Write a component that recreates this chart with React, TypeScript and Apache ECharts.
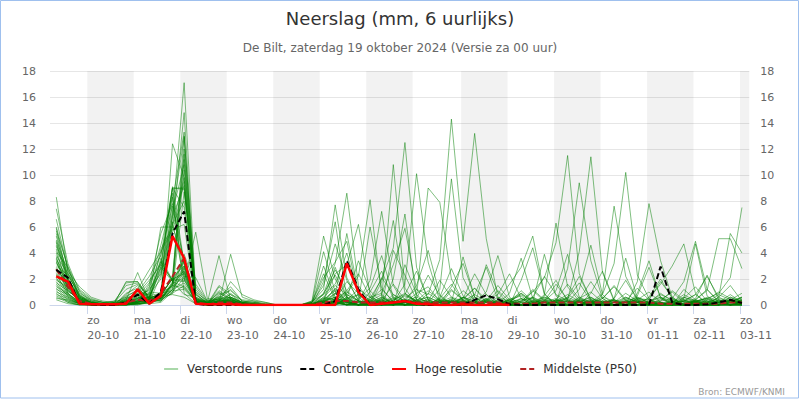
import React, { useEffect, useRef } from 'react';
import * as echarts from 'echarts';

// hours since Sat 19 Oct 2024 00:00 (local); 6-hourly sums, first at 08:00
const times = Array.from({ length: 60 }, (_, i) => 6 * (i + 1) + 2);

const tickHours = [24, 48, 72, 96, 120, 144, 168, 192, 217, 241, 265, 289, 313, 337, 361];
const tickLabels = ['zo\n20-10', 'ma\n21-10', 'di\n22-10', 'wo\n23-10', 'do\n24-10', 'vr\n25-10', 'za\n26-10', 'zo\n27-10', 'ma\n28-10', 'di\n29-10', 'wo\n30-10', 'do\n31-10', 'vr\n01-11', 'za\n02-11', 'zo\n03-11'];
const bandStarts = [24, 72, 120, 168, 217, 265, 313, 361];
const bandEnds = [48, 96, 144, 192, 241, 289, 337, 365.8];

const hres = [2.2,1.8,0.1,0.05, 0.05,0.05,0.1,1.2, 0.1,0.7,5.3,3.6, 0.1,0.05,0.05,0.05, 0,0,0,0, 0,0,0,0, 0,3.2,1.0,0, 0.1,0.2,0.3,0.1, 0.05,0,0,0.05, 0,0,0.05,0];
const controle = [2.7,2.1,0.1,0.05, 0,0,0.2,0.8, 0.1,1.0,5.5,7.2, 0.1,0,0,0, 0,0,0,0, 0,0,0,0, 0.3,3.4,1.2,0, 0.1,0.2,0.3,0.1, 0,0,0,0, 0.4,0.75,0.45,0.05, 0,0,0,0, 0,0,0,0, 0,0,0,0, 2.95,0.2,0,0, 0.05,0.2,0.4,0.15];
const p50 = [2.75,1.4,0.3,0.1, 0,0,0.2,0.4, 0.3,0.9,2.2,3.6, 0.2,0.05,0.2,0.2, 0.05,0,0,0, 0,0,0,0.2, 0.3,0.3,0.2,0.2, 0.2,0.2,0.3,0.2, 0.2,0.2,0.2,0.2, 0.2,0.2,0.2,0.1, 0.1,0.1,0.2,0.2, 0.2,0.2,0.2,0.2, 0.2,0.2,0.2,0.2, 0.1,0.1,0.1,0.1, 0.1,0.1,0.2,0.2];

const m01 = [8.3,2.5,0.6,0.2, 0.1,0,0.3,0.5, 1.2,2.4,6.8,17.1, 0.8,0.1,0.3,0.2, 0.1,0,0,0, 0,0,0.1,0.4, 1.2,0.3,0,0.2, 2.1,0.8,0.3,0, 0.1,0,1.4,3.2, 0.6,0,0,0.2, 0.9,0.3,0,0, 0.1,0.4,1.8,0.5, 0,0,0.2,0, 0.3,1.1,0.4,0, 0,0.2,0.1,0];
const m02 = [7.4,3.2,1.0,0.3, 0.2,0.1,0.2,0.8, 0.4,0.5,12.4,9.8, 0.3,0,0.1,0.3, 0,0,0,0, 0,0,0,0, 0.3,1.1,2.4,0.6, 0.9,3.1,5.9,1.2, 0.2,0,0,0.4, 1.3,0.2,0,0, 0,0.6,2.2,0.8, 0.3,0,0,0.1, 0.5,1.9,0.4,0, 0,0.2,0.8,0.3, 0,0,0.4,0.9];
const m03 = [6.0,2.8,0.8,0.1, 0,0.1,1.8,1.8, 0.6,6.0,6.0,14.8, 0.2,0,0,0.1, 0,0,0,0, 0,0,0.3,5.3, 2.0,0.4,0,0.1, 0.6,0.2,0,0.3, 1.1,0.4,0,0, 0.2,0.8,0.2,0, 0,0,0.3,1.6, 0.4,0,0.2,0, 0,0.1,0.7,2.9, 0.6,0,0,0.1, 0.3,0.2,0,0];
const m04 = [5.7,3.0,0.5,0.1, 0,0.2,0.1,0.3, 0.9,3.2,9.0,8.9, 0.5,0.2,3.8,0.4, 0.1,0,0,0, 0,0,0,0.6, 1.5,0.8,0.3,6.0, 1.3,0.2,0,0, 0,0.3,1.2,0.4, 0,0,0.1,0.9, 3.6,0.5,0,0, 0,0.2,0.6,0.1, 0,0,0.3,0.2, 0.8,0.4,0,0, 0.1,0.6,1.5,0.3];
const m05 = [5.5,2.2,0.9,0.4, 0.2,0.3,0.4,2.5, 0.3,0.9,8.0,13.3, 0.1,0.4,0.2,3.9, 0.6,0.3,0,0, 0,0,0.2,1.2, 7.7,2.1,0.3,0, 0,0.4,0.9,0.2, 0,0,0.2,0.6, 0.3,0,0,0, 0.2,1.2,0.4,0, 0,0.3,0.1,0, 0,0,0.4,1.0, 0.2,0,0,0.3, 0.5,0.1,0,0];
const m06 = [5.3,1.8,0.4,0.2, 0,0.1,0,0.1, 0.2,1.0,7.0,12.9, 1.2,0.1,0.5,1.2, 0.3,0.2,0.1,0, 0,0,0,0, 0.4,1.8,0.9,0.2, 0,0,0.3,1.5, 4.2,0.8,0,0, 0.1,0.3,0,0, 0,0.1,0.5,0.2, 0,0,0.9,2.6, 0.4,0,0,0.2, 0,0.3,0.1,0, 0,0.4,0.2,0.1];
const m07 = [5.0,2.6,1.4,0.6, 0.3,0.2,0.6,1.2, 2.7,4.1,5.8,6.2, 0.2,0,0,0, 0,0,0,0, 0,0,0,1.8, 6.4,0.5,0,0.3, 0.8,0.1,0,0.5, 2.3,0.7,0,0, 0,0.2,1.1,0.3, 0,0,0,0.4, 1.6,0.5,0,0, 0.2,0.9,0.3,0, 0,0,0.5,1.4, 0.3,0,0,0.2];
const m08 = [4.8,1.6,0.3,0.1, 0,0,0.2,0.4, 0.6,2.8,9.0,7.5, 0.1,0,1.4,0.6, 0.2,0.1,0,0, 0,0,0,0, 0.2,0.5,3.4,1.1, 0.2,0,0,0, 0.3,1.9,0.6,0, 0,0,0.4,0.2, 0.1,0,0,0.3, 0.6,0.2,0,0, 0,0.3,1.3,0.4, 0,0,0,0.2, 0.6,0.3,0,0];
const m09 = [4.5,2.0,0.7,0.3, 0.1,0.3,1.5,1.7, 0.5,0.6,1.6,11.2, 0.3,0.2,0.2,1.8, 0.8,0.4,0.2,0, 0,0,0.1,0.9, 3.2,8.6,1.5,0.2, 0,0.4,0.8,0.3, 0,0,0.2,1.1, 0.4,0,0,0, 0,0.3,0.2,0, 0,0,0.1,0.5, 1.4,0.3,0,0, 0,0.2,0.1,0, 0,0,0.3,0.5];
const m10 = [4.3,1.2,0.2,0, 0,0,0,0.2, 1.6,5.5,7.8,2.2, 2.1,0.3,0.3,0.2, 0,0,0,0, 0,0,0.2,4.1, 1.0,0.3,0,0, 0.2,0.5,0.1,0, 0,0.6,2.8,0.7, 0,0,0,0.3, 0.8,0.2,0,0, 0.1,0.4,0.2,0, 0,0,0,0.6, 2.0,0.5,0,0, 0,0.1,0.4,0.2];
const m11 = [4.1,2.9,1.2,0.5, 0.2,0.1,0.3,0.6, 0.3,0.8,1.5,10.4, 0.4,0.2,1.1,0.5, 0.2,0.1,0,0, 0,0,0,0.3, 2.4,3.1,6.2,0.8, 0,0,0.2,0.1, 0.9,0.3,0,0, 0.2,1.0,3.8,0.6, 0,0,0.2,0, 0,0.3,0,0, 0.4,0.2,0,0, 0.1,0,0.6,0.3, 0,0,0,0.1];
const m12 = [4.0,1.5,0.2,0.1, 0,0,0.1,0.2, 0.4,3.6,1.9,1.8, 5.6,0.5,0.4,0.3, 0.1,0,0,0, 0,0,0,0.2, 0.8,5.5,1.0,0, 0.3,1.6,0.4,0, 0,0,0.3,0, 0,0.5,0.2,0, 1.9,4.4,0.8,0, 0,0.2,0.1,0, 0,0,0.5,0.2, 0,0,0,0.4, 1.2,0.3,0,0];
const m13 = [3.8,2.4,0.6,0.2, 0.1,0,0.8,1.5, 0.2,0.6,6.2,9.8, 0.2,0,0.1,0.1, 0,0,0,0, 0,0,0,0.5, 0.4,0.9,2.2,8.1, 0.7,0,0,0.2, 0,0.1,0,0.5, 1.3,0.4,0,0, 0,0,0.7,1.9, 0.3,0,0,0, 0.2,0.6,0.2,0, 0,0.1,0.3,0, 0,0,0.2,0.6];
const m14 = [3.7,1.1,0.4,0, 0,0,0,0, 0.3,0.3,1.2,8.7, 1.6,0.3,0.6,1.4, 0.3,0.2,0.1,0, 0,0,0,0, 0.2,0,0.5,1.3, 3.8,0.6,0,0, 0,0.2,0.4,0.1, 0,0,0,0.2, 0.5,0,0.3,1.1, 3.9,0.6,0,0, 0,0,0.2,0, 0.4,1.0,0.2,0, 0,0,0,0.3];
const m15 = [3.5,2.1,0.3,0.1, 0,0,0.2,0.5, 1.0,0.9,2.0,2.4, 0.1,0,0.2,0.2, 0,0,0,0, 0,0,0.1,3.0, 0.6,0,0,0.2, 0.4,0,0.8,2.6, 0.4,0,0,0, 0,0.3,0.1,0, 0,0,0,0.2, 0.5,1.7,0.3,0, 0,0.2,0,0, 0,0,0.1,0.5, 2.3,0.4,0,0];
const m16 = [3.4,0.9,0.1,0, 0,0.1,0.1,0.3, 0.5,0.9,1.1,1.2, 0.3,0.1,1.5,0.8, 0.4,0.3,0.2,0, 0,0,0,0.8, 2.7,1.1,0.3,1.9, 7.2,1.5,0,0, 0.2,0,0,0.3, 0,0,0.2,0.4, 0,1.1,0.3,0, 0,0,0,0.2, 0.3,0,0.9,3.4, 0.5,0,0,0, 0,0.2,0.8,0.2];
const m17 = [3.2,1.9,0.5,0.2, 0,0.2,1.7,1.8, 0.4,4.3,6.0,3.6, 0.2,0.1,0.1,0.4, 0.2,0.1,0,0, 0,0,0,0, 0.3,0.2,0,0.6, 0.2,0,0.4,0.1, 0,0.5,0.2,0, 0.8,2.9,0.4,0, 0,0,0,0.2, 0,0,0.4,0.3, 0,0,0.2,0.1, 0,0,0,0.2, 0.4,1.0,0.5,0];
const m18 = [3.0,2.3,0.8,0.3, 0,0.2,0.3,0.4, 0.2,0.6,2.2,12.0, 0.5,0.2,0.3,0.1, 0,0,0,0, 0,0,0,0.4, 1.1,0.2,0,0, 0.5,10.8,1.3,0, 0,0.2,0,0.1, 0.2,0,0,0, 0.5,0.2,0,0.3, 0.8,0.3,0,0, 0,0,0,0.2, 0.3,0.5,0,0, 0,0,0.6,0.2];
const m19 = [2.9,1.4,0.2,0.1, 0,0,0,0.1, 0.8,2.0,8.6,0.9, 0.1,0,0,0.2, 0,0,0,0, 0,0,0,0, 0,0.3,0.8,0.4, 0,0,0.2,0.9, 1.4,0.3,0.2,3.7, 0.6,0,0,0, 0,0,0,0.4, 0.2,1.2,4.6,0.8, 0,0,0,0.3, 0.6,0.1,0,0, 0,0.3,0,0.1];
const m20 = [2.8,1.0,0.6,0.2, 0.1,0,0.5,0.9, 1.9,3.1,1.9,3.5, 0.8,0.2,0.9,0.5, 0.1,0,0,0, 0,0,0.2,1.5, 4.7,1.9,0.4,0, 0,0,0.3,0.6, 0.2,0,0,0, 0,0.4,0.8,2.4, 0.5,0,0,0, 0,0,0.2,0.1, 0,0.5,0.3,0, 0,0,1.2,0.4, 0,0,0.1,0.3];
const m21 = [2.7,1.7,0.3,0, 0,0.1,0.2,0.6, 0.3,0.7,1.0,2.1, 0.2,0,0.2,0.1, 0,0,0,0, 0,0,0,0.2, 0.6,1.0,0.3,0, 1.8,6.5,0.9,0.3, 0,0,0.3,0.2, 0,0,0,0.1, 0.3,0.6,0.2,0, 0,0,0,0.5, 1.5,0.4,0,0, 0,0,0.3,0, 0.2,0.8,0.4,0];
const m22 = [2.5,1.3,0.4,0.1, 0,0,0,0.2, 0.5,0.6,6.8,9.2, 1.0,0.3,0.4,0.6, 0.2,0,0,0, 0,0,0.1,0.3, 0.9,0.2,0,0.5, 2.0,4.4,12.5,2.9, 0.4,0,0,0, 0,0.2,0,0, 0,0,0.4,0.2, 0,0.3,0,0.1, 0,0,0.6,0.2, 0,0,0,0, 0.3,0.1,0,0.2];
const m23 = [2.4,0.8,0.1,0, 0,0,0.1,0.1, 0.2,0.4,0.9,1.5, 0.3,0,0.1,0.3, 0,0,0,0, 0,0,0,0, 0.2,0.4,0.1,0, 0,0.2,0.7,0.3, 0,0,1.1,0.4, 0.2,0,0,0, 0,0.2,3.9,0.7, 0,0,0,0.3, 0.2,0,0,0.4, 1.8,0.6,0,0, 0,0,0,0.4];
const m24 = [2.2,1.6,0.5,0.2, 0,0.1,0.3,1.0, 2.2,3.8,9.1,3.2, 0.2,0,0.8,1.1, 0.3,0.2,0,0, 0,0,0,0.9, 2.3,0.6,0,0, 0.4,0.2,1.6,10.1, 3.3,0.3,0,0, 0,0,0.3,0.1, 0,0,0,0.4, 0.2,0.5,1.0,0.2, 0,0,0,0.1, 0,0.4,0.2,0, 0,0,0.3,0];
const m25 = [2.1,0.7,0.2,0.1, 0,0,0,0.3, 0.3,0.5,1.8,0.8, 0.6,0.2,0.2,0.2, 0.1,0,0,0, 0,0,0,0.3, 0.1,0.4,1.2,0.6, 0,2.0,7.0,0.4, 0,0,0,0.3, 0.8,0.3,0,0, 0,0.4,0.1,0, 0,0,0.2,0.6, 0.3,0,0,0, 0.2,0,0.5,4.7, 0.7,0,0,0];
const m26 = [2.0,1.2,0.3,0, 0,0,0.2,0.5, 0.9,0.7,2.1,3.0, 0.1,0,0.3,0.5, 0,0,0,0, 0,0,0,0, 0.5,0.3,0,0.2, 0.6,0.1,0,0.7, 9.0,7.9,2.0,0.3, 0,0,0.2,0, 0,0.1,0,0, 0.3,0.2,0,0, 0,0.2,0.4,0, 0,0,0,0.1, 0.2,0.5,0.3,0];
const m27 = [1.8,0.6,0.1,0, 0,0,0,0.1, 0.4,1.0,1.4,2.2, 0.4,0.1,0.6,0.2, 0.1,0,0,0, 0,0,0.2,2.4, 0.4,0,0,0, 0.2,0.3,0,0.4, 0.6,0.2,0,0, 0,0.3,1.5,0.4, 0,0,0.3,0, 0,0,0,0, 0.5,3.6,0.5,0, 0,0,0.3,0.8, 0.2,0,0.4,0.1];
const m28 = [1.7,1.1,0.4,0.1, 0,0,0.9,1.3, 0.5,0.5,1.6,2.6, 0.1,0,0.2,0.1, 0,0,0,0, 0,0,0,0, 0.3,0.2,0,0, 0,0,0.5,1.2, 0.8,3.5,14.3,4.9, 13.2,5.1,0.6,0, 0,0,0,0.2, 0,0.3,0,0, 0,0,0,0, 0.2,0,0,0.3, 0,0.2,0,0];
const m29 = [1.5,0.5,0.1,0, 0,0,0.1,0.2, 0.6,2.6,7.2,10.8, 0.3,0,0.1,0.9, 0.2,0.1,0,0, 0,0,0.1,0.2, 0,0.4,0.2,0, 0,0.6,0.3,0, 0.2,1.2,9.7,2.1, 0.3,0,0,0.4, 0.9,0.2,0,0, 0,0.4,0.3,0, 0,0,0.2,0, 0,0,0,0.4, 0.2,0,0,0.3];
const m30 = [1.4,0.9,0.2,0.1, 0,0,0,0, 0.2,0.4,1.5,3.0, 0.9,0.1,1.0,0.3, 0,0,0,0, 0,0,0,0.1, 0.3,0,0,0.4, 1.2,0.3,0,0, 0,0.3,0.2,0, 0,0,0.4,1.6, 2.9,5.3,0.9,0, 0,0,0.3,0.1, 0,0,0,0.2, 0.6,0.3,0,0, 0,0,0.2,0.6];
const m31 = [1.3,0.4,0.1,0, 0,0,0.4,0.8, 1.1,2.9,1.8,3.4, 0.2,0,0.3,0.1, 0,0,0,0, 0,0,0,0.2, 0.2,0,0.3,0, 0,0.2,0,0, 0.5,0,0,0.2, 0.3,0,0.1,0, 0,0,0.8,6.3, 1.4,0.3,0,0, 0,0.3,0.2,0, 0,0,0.4,0.1, 0,0,0,0.2];
const m32 = [1.2,0.8,0.3,0.1, 0,0,0.2,0.3, 0.2,0.8,2.0,1.9, 0.5,0.1,0.2,0.4, 0.1,0,0,0, 0,0,0,0, 0.4,0.1,0,0.2, 0,0.3,0,0.4, 0.3,0,0,0.1, 0.6,0.2,0,0, 0.3,1.0,2.1,4.8, 11.5,2.4,0.4,0, 0,0,0.2,0.1, 0,0,0,0.3, 0.5,0.2,0,0];
const m33 = [1.1,0.3,0,0, 0,0,0,0.1, 0.3,0.6,1.3,2.9, 0.1,0,0,0.2, 0,0,0,0, 0,0,0,0.2, 0.9,0.1,0,0, 0.3,0,0.2,0, 0,0.2,0.6,0.3, 0,0,0,0.2, 0.4,0.5,0,0.2, 2.8,9.4,3.4,0.5, 0,0,0.3,0, 0,0.2,0,0, 0,0.4,0,0.2];
const m34 = [1.0,0.6,0.2,0, 0,0,0.6,0.7, 0.4,3.4,1.8,1.4, 0.3,0.2,0.5,0.6, 0.2,0.1,0,0, 0,0,0.1,0.3, 0,0,0.3,0.2, 0,0.8,0.3,0, 0,0,0,0.6, 0.2,0,0,0, 0,0.3,0.6,0.2, 0.4,4.1,11.4,2.5, 0.3,0,0,0, 0,0.2,0.6,0.2, 0,0,0,0.1];
const m35 = [0.9,0.2,0,0, 0,0,0.1,0.2, 0.7,0.6,5.6,9.5, 0.2,0,0.1,0.1, 0,0,0,0, 0,0,0,0, 0.5,0.3,0,0, 0,0,0.4,0.3, 0,0.2,0,0, 0,0.4,0.2,0, 0,0,0,0, 0.3,0,0.2,0.9, 7.6,2.2,0.4,0, 0,0,0.3,0.2, 0,0.6,0.2,0];
const m36 = [0.8,0.5,0.1,0, 0,0,0,0.4, 0.1,0.5,0.9,3.9, 1.4,0.2,0.2,0.2, 0.1,0,0,0, 0,0,0,0.1, 0,0.6,0.2,0, 0,0,0,0.2, 0,0.4,0.3,0, 0,0,0.2,0.3, 0,0.6,0,0, 0.4,0,0,0.8, 3.2,10.2,2.3,0.5, 0,0,0,0.3, 0.2,0,0,0];
const m37 = [0.7,0.3,0.1,0, 0,0,0.3,0.2, 0.6,0.3,1.2,2.5, 0.1,0,0.4,0.8, 0.1,0,0,0, 0,0,0,0, 0.2,0,0,0.4, 0.2,0,0,0, 0,0,0.3,0.1, 0,0,0,0.5, 0.2,0,0,0.1, 0,0.3,0.6,0, 0.2,0,1.8,7.8, 3.4,0.6,0,0, 0,0,0.3,0.1];
const m38 = [0.6,0.2,0,0, 0,0,0.1,0.1, 0.2,2.3,6.4,2.0, 0.2,0,0.1,0.1, 0,0,0,0, 0,0,0,0.3, 0.6,0.2,0,0, 0.3,0,0,0, 0.2,0,0.2,0, 0,0.4,0,0, 0,0,0.3,0, 0,0.2,0,0.3, 0,0,0.2,0.5, 1.6,3.0,4.7,0.9, 0,0,0.2,0.4];
const m39 = [0.5,0.4,0.1,0, 0,0,0,0.3, 1.4,4.6,8.3,3.1, 0.3,0,0.3,0.3, 0,0,0,0, 0,0,0,0.1, 0,0.5,0.8,0.2, 0,0,0.3,0, 0,0,0.5,0.2, 0.3,0,0,0, 0.2,0,0,0, 0,0,0.3,0.2, 0,0.6,0.2,0, 0,0.5,1.8,4.9, 1.2,0.2,0,0];
const m40 = [0.4,0.1,0,0, 0,0,0.2,0.1, 0.1,0.2,1.0,2.8, 0.1,0,0,0.1, 0,0,0,0, 0,0,0,0, 0.2,0,0,0, 0,0.3,0,0.2, 0,0,0,0.3, 0,0.2,0,0, 0,0,0.2,0, 0.3,0,0,0, 0,0.3,0,0, 0.2,0,0,0.4, 1.1,5.1,5.1,2.8];
const m41 = [6.6,2.7,0.7,0.2, 0.1,0,0.4,0.9, 0.8,0.4,1.7,13.0, 0.3,0.1,0.2,0.4, 0.1,0,0,0, 0,0,0,0.2, 0.3,0,0,0, 0.5,0.2,0,0, 0,0.1,0.4,0, 0,0,0.3,0, 0,0.2,0,0.3, 0.5,0,0,0, 0,0.2,0.1,0, 0,0,0.3,0.8, 2.2,0.6,5.5,4.0];
const m42 = [5.9,1.9,0.5,0.1, 0,0,0.1,0.2, 0.3,3.0,9.0,9.0, 0.6,0.2,0.5,0.2, 0,0,0,0, 0,0,0,0, 0.1,0.3,0,0, 0,0,0,0.2, 0.4,0,0,0, 0,0.3,0,0.2, 0,0,0,0.3, 0,0,0.2,0, 0.4,0,0,0, 0.2,0,0,0.3, 0.5,0.9,2.1,7.5];
const m43 = [4.6,2.4,1.1,0.4, 0.2,0.1,0.7,1.1, 0.5,0.9,6.2,8.0, 0.2,0,0.2,0.6, 0.2,0.1,0,0, 0,0,0.2,2.1, 3.3,4.9,0.6,0, 0.2,0,3.1,0.8, 0,0,0.2,0.5, 2.4,0.8,0,0, 0.3,0,0,0.4, 0,0.6,0.2,0, 0,0,0.5,0.4, 0,0,0,0.2, 0,0.3,0.4,0.2];
const m44 = [3.3,1.5,0.4,0.1, 0,0,0.2,0.3, 1.3,3.9,7.6,3.3, 0.3,0.1,0.7,0.3, 0.1,0,0,0, 0,0,0,0.4, 2.9,0.6,0,0, 0,4.2,2.3,0.4, 0,0,0,0.2, 0,0,0.6,0.3, 0,0,0,0, 0.6,2.2,0.4,0, 0,0,0,0.2, 0.9,0.3,0,0, 0,0,0.3,0];
const m45 = [2.6,1.8,0.7,0.2, 0.1,0.2,1.2,1.6, 0.6,0.5,1.2,1.7, 0.4,0.2,0.3,0.2, 0,0,0,0, 0,0,0.3,0.8, 1.6,4.0,0.7,0.3, 0,0,0.2,0, 0,0.4,0,0.6, 0,3.1,1.0,0, 0,0,0.2,0, 0,0,0,0.2, 0.4,0,0,0, 0,0.3,0,0.2, 0,0,0.2,0.4];
const m46 = [2.3,0.9,0.2,0, 0,0,0,0.1, 0.2,0.7,0.8,0.6, 0.1,0,0.1,0.1, 0,0,0,0, 0,0,0,0.6, 0.4,0,0,1.0, 2.6,0.5,0,0, 0.3,0,0,0, 0,0,0,0.2, 1.1,0.3,0,0, 0,0,0.2,0, 0,0.2,0.6,0.2, 0,0,0,0, 0.2,0,0.6,0.3];
const m47 = [1.9,1.4,0.5,0.1, 0,0,0.3,0.7, 1.7,3.3,1.9,2.6, 0.5,0.1,0.2,0.5, 0.1,0,0,0, 0,0,0.1,0.3, 0.2,0.8,0.3,0, 0,0,0.4,0.2, 0,0.5,1.6,0.3, 0,0,0,0.4, 0.7,0,0,0, 0,0.2,0.3,0, 0,0,0,0, 0.5,0.2,0,0, 0,0,0.3,0.6];
const m48 = [1.6,0.7,0.1,0, 0,0,0.1,0.2, 0.4,0.3,1.7,3.3, 0.2,0,0.4,0.2, 0,0,0,0, 0,0,0,0.5, 0,0,0.2,0.3, 0,0,0,0, 0,0.3,0.2,0, 0.2,0,0,0, 0,0,0.2,0.5, 0,0,0,0.3, 0.3,0,0,0.2, 0,0,0.4,0.2, 0,0,0,0.2];
const m49 = [4.9,2.0,0.6,0.2, 0,0.1,0.2,0.5, 0.6,0.8,2.0,11.6, 0.4,0.1,0.3,0.4, 0.1,0,0,0, 0,0,0,0.2, 1.3,0.3,0,0, 0,0.2,0,0.3, 0.6,0.2,0,0, 0,0,0.2,0, 0,0.2,0.4,0.1, 0,0,0.5,0.2, 0,0.2,0.3,0, 0,0,0.1,0, 0.4,0.2,0,0];
const m50 = [3.6,1.3,0.3,0.1, 0,0,0.5,0.8, 0.4,0.5,1.5,1.3, 0.3,0,0.2,0.3, 0,0,0,0, 0,0,0,0.3, 0.6,0.2,0,0, 0.4,0,0,0, 0,0,0.3,0.2, 0,0.5,0,0.2, 0,0,0.6,0.3, 0,0,0.1,0, 0,0.4,0,0, 0,0.2,0,0.3, 0,0,0.4,0.2];

const members = [m01,m02,m03,m04,m05,m06,m07,m08,m09,m10,m11,m12,m13,m14,m15,m16,m17,m18,m19,m20,m21,m22,m23,m24,m25,m26,m27,m28,m29,m30,m31,m32,m33,m34,m35,m36,m37,m38,m39,m40,m41,m42,m43,m44,m45,m46,m47,m48,m49,m50];

const FONT = 'DejaVu Sans';
const X_MIN = 4.75;
const X_MAX = 365.8;
const pts = (arr: number[]) => arr.map((v, i) => [times[i], v]);
const hideSymbol = { opacity: 0 };

export default function App() {
  const ref = useRef<HTMLDivElement>(null);
  useEffect(() => {
    document.body.style.margin = '0';
    const chart = echarts.init(ref.current!, null, { renderer: 'svg', width: 800, height: 400 });
    const memberSeries = members.map((m) => ({
      type: 'line',
      name: 'Verstoorde runs',
      data: pts(m),
      symbol: 'none',
      silent: true,
      z: 2,
      lineStyle: { color: 'rgba(0,128,0,0.5)', width: 1 },
      itemStyle: { color: 'rgba(0,128,0,0.5)' },
    }));
    const option: any = {
      animation: false,
      backgroundColor: '#ffffff',
      textStyle: { fontFamily: FONT },
      title: [
        { text: 'Neerslag (mm, 6 uurlijks)', left: 'center', top: 4, textStyle: { fontSize: 18, fontWeight: 'normal', color: '#333333', fontFamily: FONT } },
        { text: 'De Bilt, zaterdag 19 oktober 2024 (Versie za 00 uur)', left: 'center', top: 37, textStyle: { fontSize: 12, fontWeight: 'normal', color: '#666666', fontFamily: FONT } },
        { text: 'Bron: ECMWF/KNMI', right: 10, top: 382, textStyle: { fontSize: 9, fontWeight: 'normal', color: '#999999', fontFamily: FONT } },
      ],
      legend: {
        top: 358,
        left: 'center',
        itemWidth: 14,
        itemHeight: 10,
        itemGap: 17,
        textStyle: { fontSize: 12, color: '#333333', fontFamily: FONT, padding: [0, 0, 0, 4] },
        data: [
          { name: 'Verstoorde runs', itemStyle: hideSymbol, lineStyle: { color: '#a9d8a9', width: 2 } },
          { name: 'Controle', itemStyle: hideSymbol },
          { name: 'Hoge resolutie', itemStyle: hideSymbol },
          { name: 'Middelste (P50)', itemStyle: hideSymbol },
        ],
      },
      grid: { left: 50, right: 50.7, top: 71, bottom: 95, containLabel: false },
      xAxis: {
        type: 'value',
        min: X_MIN,
        max: X_MAX,
        splitLine: { show: false },
        axisLine: { show: true, lineStyle: { color: '#ccd6eb', width: 1 } },
        axisTick: { show: true, customValues: tickHours, length: 9, lineStyle: { color: '#ccd6eb' } },
        axisLabel: {
          customValues: tickHours,
          formatter: (v: number) => tickLabels[tickHours.indexOf(Math.round(v))] ?? '',
          align: 'left',
          color: '#666666',
          fontSize: 11,
          lineHeight: 15,
          margin: 8,
          fontFamily: FONT,
        },
      },
      yAxis: [
        {
          type: 'value', min: 0, max: 18, interval: 2, position: 'left',
          axisLine: { show: false }, axisTick: { show: false },
          axisLabel: { color: '#666666', fontSize: 11, margin: 14, fontFamily: FONT },
          splitLine: { show: true, lineStyle: { color: '#e6e6e6', width: 1 } },
        },
        {
          type: 'value', min: 0, max: 18, interval: 2, position: 'right',
          axisLine: { show: false }, axisTick: { show: false },
          axisLabel: { color: '#666666', fontSize: 11, margin: 11, fontFamily: FONT },
          splitLine: { show: false },
        },
      ],
      graphic: [
        { type: 'rect', z: 100, silent: true, shape: { x: 0.5, y: 0.5, width: 798, height: 397.5 }, style: { fill: 'none', stroke: '#9fc0ee', lineWidth: 1 } },
      ],
      series: [
        {
          type: 'line', data: [], silent: true, z: 1,
          markArea: {
            silent: true,
            itemStyle: { color: 'rgba(0,0,0,0.05)' },
            data: bandStarts.map((s, i) => [{ xAxis: s }, { xAxis: bandEnds[i] }]),
          },
        },
        ...memberSeries,
        {
          type: 'line', name: 'Middelste (P50)', data: pts(p50), symbol: 'none', z: 3, silent: true,
          lineStyle: { color: '#b22222', width: 2, type: [6, 3] }, itemStyle: { color: '#b22222' },
        },
        {
          type: 'line', name: 'Controle', data: pts(controle), symbol: 'none', z: 4, silent: true,
          lineStyle: { color: '#000000', width: 2, type: [6, 3] }, itemStyle: { color: '#000000' },
        },
        {
          type: 'line', name: 'Hoge resolutie', data: pts(hres), symbol: 'none', z: 5, silent: true,
          lineStyle: { color: '#ff0000', width: 2.5 }, itemStyle: { color: '#ff0000' },
        },
      ],
    };
    chart.setOption(option);
    return () => chart.dispose();
  }, []);
  return <div ref={ref} style={{ position: 'fixed', left: 0, top: 0, width: 800, height: 400, background: '#fff' }} />;
}
